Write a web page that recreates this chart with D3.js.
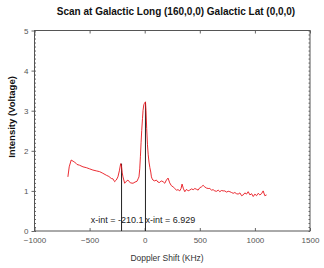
<!DOCTYPE html>
<html>
<head>
<meta charset="utf-8">
<script src="https://cdn.jsdelivr.net/npm/d3@7"></script>
<style>
  body { margin: 0; background: #fff; }
  text { font-family: "Liberation Sans", Arial, sans-serif; }
</style>
</head>
<body>
<div id="chart"></div>
<script>
// scan data
var shift = [-697, -685, -667, -650, -636, -615, -591, -560, -530, -500, -470, -440, -409, -380, -348, -325, -303, -288, -273, -258, -243, -230, -218, -210, -204, -197, -182, -167, -152, -130, -106, -88, -70, -60, -52, -45, -39, -33, -27, -20, -15, -8, -3, 7, 12, 18, 25, 32, 39, 47, 55, 61, 68, 75, 90, 106, 120, 136, 150, 167, 182, 197, 212, 227, 242, 258, 273, 288, 303, 318, 330, 339, 352, 364, 380, 394, 409, 425, 440, 455, 470, 485, 500, 515, 530, 545, 561, 576, 591, 606, 621, 636, 652, 667, 682, 697, 712, 727, 742, 758, 773, 788, 803, 818, 833, 848, 864, 879, 894, 909, 924, 939, 955, 970, 985, 1000, 1015, 1030, 1045, 1060, 1075, 1090, 1106];
var volts = [1.35, 1.6, 1.77, 1.74, 1.72, 1.66, 1.64, 1.6, 1.58, 1.55, 1.52, 1.5, 1.48, 1.44, 1.39, 1.36, 1.31, 1.3, 1.23, 1.27, 1.35, 1.5, 1.68, 1.6, 1.45, 1.35, 1.19, 1.24, 1.27, 1.2, 1.19, 1.22, 1.24, 1.3, 1.35, 1.55, 1.85, 2.2, 2.51, 2.8, 3.01, 3.15, 3.18, 3.22, 3.0, 2.56, 2.15, 1.9, 1.72, 1.58, 1.47, 1.35, 1.3, 1.27, 1.25, 1.27, 1.22, 1.21, 1.25, 1.23, 1.19, 1.27, 1.32, 1.2, 1.13, 1.1, 1.06, 1.02, 1.03, 1.0, 1.06, 1.17, 1.05, 0.98, 1.04, 1.0, 1.02, 1.05, 1.03, 1.06, 1.04, 1.02, 1.08, 1.1, 1.14, 1.1, 1.07, 1.06, 1.06, 1.02, 1.03, 1.0, 0.99, 1.02, 0.98, 1.01, 1.0, 1.0, 0.97, 0.99, 0.98, 0.96, 0.94, 0.96, 0.93, 0.92, 0.95, 0.88, 0.9, 0.95, 0.92, 0.98, 0.9, 0.93, 0.86, 0.92, 0.88, 0.94, 0.9, 0.93, 1.0, 0.88, 0.9];

var xTicks = [-1000, -500, 0, 500, 1000, 1500];
var yTicks = [0, 1, 2, 3, 4, 5];
var xints = [-210.1, 6.929];
var xintPeaks = [1.68, 3.22];

var width = 324, height = 268;
var margin = { top: 30.5, right: 14, bottom: 37, left: 34.5 };

var svg = d3.select('#chart')
  .append('svg')
  .attr('width', width)
  .attr('height', height);

var x = d3.scaleLinear().domain([-1000, 1500]).range([margin.left, width - margin.right]);
var y = d3.scaleLinear().domain([0, 5]).range([height - margin.bottom, margin.top]);

// title and axis labels
svg.append('text')
  .attr('x', 176).attr('y', 15)
  .attr('text-anchor', 'middle')
  .attr('font-size', 10).attr('font-weight', 'bold')
  .attr('fill', '#111')
  .text('Scan at Galactic Long (160,0,0) Galactic Lat (0,0,0)');

svg.append('text')
  .attr('transform', 'translate(15,117) rotate(-90)')
  .attr('text-anchor', 'middle')
  .attr('font-size', 9.5).attr('font-weight', 'bold')
  .attr('fill', '#111')
  .text('Intensity (Voltage)');

svg.append('text')
  .attr('x', 167).attr('y', 261)
  .attr('text-anchor', 'middle')
  .attr('font-size', 8.5)
  .attr('fill', '#333')
  .text('Doppler Shift (KHz)');

// axes (inward ticks on all four sides)
function styleAxis(g) {
  g.select('.domain').remove();
  g.selectAll('line').attr('stroke', '#666');
  g.selectAll('text').attr('fill', '#555').attr('font-size', 8);
}

svg.append('g')
  .attr('transform', 'translate(0,' + y(0) + ')')
  .call(d3.axisBottom(x).tickValues(xTicks).tickSize(-3).tickPadding(6).tickFormat(d3.format('d')))
  .call(styleAxis);

svg.append('g')
  .attr('transform', 'translate(0,' + y(5) + ')')
  .call(d3.axisTop(x).tickValues(xTicks).tickSize(-3).tickFormat(''))
  .call(styleAxis);

svg.append('g')
  .attr('transform', 'translate(' + x(-1000) + ',0)')
  .call(d3.axisLeft(y).tickValues(d3.range(0, 5.01, 0.1)).tickSize(-1.5).tickFormat(''))
  .call(styleAxis);

svg.append('g')
  .attr('transform', 'translate(' + x(-1000) + ',0)')
  .call(d3.axisLeft(y).tickValues(yTicks).tickSize(3).tickPadding(3).tickFormat(d3.format('d')))
  .call(styleAxis);

svg.append('g')
  .attr('transform', 'translate(' + x(1500) + ',0)')
  .call(d3.axisRight(y).tickValues(d3.range(0, 5.01, 0.1)).tickSize(-1.5).tickFormat(''))
  .call(styleAxis);

// frame
svg.append('rect')
  .attr('x', x(-1000)).attr('y', y(5))
  .attr('width', x(1500) - x(-1000)).attr('height', y(0) - y(5))
  .attr('fill', 'none').attr('stroke', '#555').attr('stroke-width', 1);

// x-intercept lines
svg.selectAll('.xint')
  .data(xints)
  .enter()
  .append('line')
  .attr('x1', function(d) { return x(d); })
  .attr('x2', function(d) { return x(d); })
  .attr('y1', y(0))
  .attr('y2', function(d, i) { return y(xintPeaks[i]); })
  .attr('stroke', '#222').attr('stroke-width', 1);

// the scan
var line = d3.line()
  .x(function(d, i) { return x(shift[i]); })
  .y(function(d) { return y(d); });

svg.append('path')
  .datum(volts)
  .attr('d', line)
  .attr('fill', 'none')
  .attr('stroke', '#e8141c')
  .attr('stroke-width', 0.9);

// x-int labels
svg.append('text')
  .attr('x', x(xints[1]) - 2).attr('y', 223)
  .attr('text-anchor', 'end')
  .attr('font-size', 9).attr('fill', '#222')
  .text('x-int = ' + xints[0]);

svg.append('text')
  .attr('x', x(xints[1])).attr('y', 223)
  .attr('text-anchor', 'start')
  .attr('font-size', 9).attr('fill', '#222')
  .text('x-int = ' + xints[1]);
</script>
</body>
</html>
